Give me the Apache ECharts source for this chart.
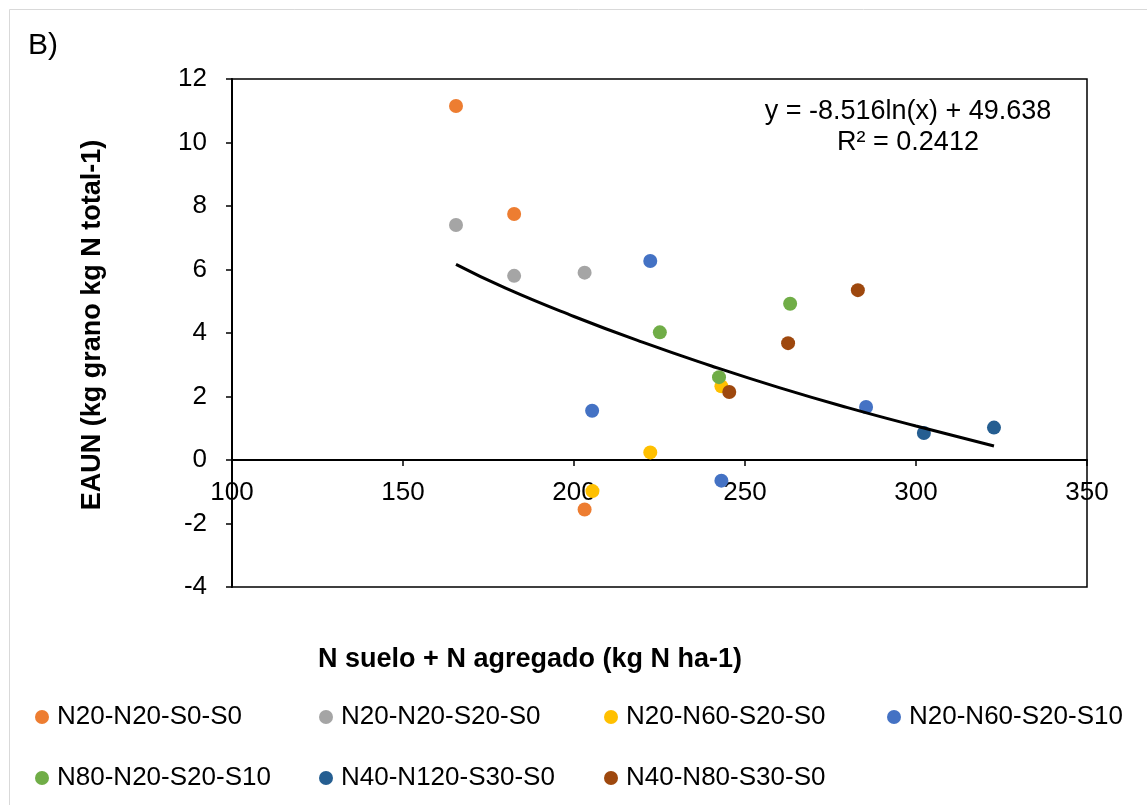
<!DOCTYPE html>
<html><head><meta charset="utf-8">
<script src="https://cdn.jsdelivr.net/npm/echarts@6/dist/echarts.min.js"></script>
<style>html,body{margin:0;padding:0;background:#fff}#c{width:1147px;height:805px}</style>
</head><body><div id="c"></div>
<script>
const seriesNames = ['N20-N20-S0-S0','N20-N20-S20-S0','N20-N60-S20-S0','N20-N60-S20-S10','N80-N20-S20-S10','N40-N120-S30-S0','N40-N80-S30-S0'];
const seriesColors = ['#ED7D31','#A5A5A5','#FFC000','#4472C4','#70AD47','#255E91','#9E480E'];
const s1 = [[165.5,11.15],[182.5,7.75],[203.1,-1.56]];
const s2 = [[165.5,7.4],[182.5,5.8],[203.1,5.9]];
const s3 = [[205.4,-0.98],[222.3,0.24],[243.1,2.32]];
const s4 = [[205.3,1.55],[222.3,6.27],[243.1,-0.65],[285.4,1.67]];
const s5 = [[225.1,4.02],[242.4,2.61],[263.2,4.92]];
const s6 = [[302.3,0.85],[322.8,1.02]];
const s7 = [[245.4,2.14],[262.6,3.68],[283.0,5.35]];
const trendX = [165.5,180,200,220,240,260,280,300,322.8];
const trendY = [6.16,5.41,4.52,3.71,2.97,2.28,1.65,1.07,0.44];
const xTicks = [100,150,200,250,300,350];
const yTicks = [-4,-2,0,2,4,6,8,10,12];
const eqText = 'y = -8.516ln(x) + 49.638';
const r2Text = 'R² = 0.2412';

const allData = [s1,s2,s3,s4,s5,s6,s7];
const font = '"Liberation Sans", Arial, sans-serif';
const FS = 26;
const TS = 27;
const chart = echarts.init(document.getElementById('c'));
const series = allData.map((d,i)=>({
  name: seriesNames[i], type:'scatter', data:d, symbolSize:14,
  itemStyle:{color:seriesColors[i], opacity:1}, z:3
}));
series.push({
  name:'trend', type:'line', data: trendX.map((x,i)=>[x,trendY[i]]),
  smooth:true, showSymbol:false, lineStyle:{color:'#000', width:3}, z:4, silent:true
});
const legendPos = [[35,704],[319,704],[604,704],[887,704],[35,765],[319,765],[604,765]];
const legends = seriesNames.map((n,i)=>({
  data:[{name:n, icon:'circle'}], left:legendPos[i][0], top:legendPos[i][1],
  itemWidth:14, itemHeight:14, itemGap:0, selectedMode:false, padding:0,
  textStyle:{fontFamily:font, fontSize:FS, color:'#000', padding:[0,0,0,3]}
}));
chart.setOption({
  animation:false,
  backgroundColor:'#fff',
  grid:{left:232, right:60, top:79, bottom:218, show:true, borderColor:'#000', borderWidth:1.5},
  legend: legends,
  xAxis:{type:'value', min:xTicks[0], max:xTicks[xTicks.length-1], interval:50,
    position:'bottom', offset:-127,
    axisLine:{onZero:false, lineStyle:{color:'#000', width:2}},
    axisTick:{show:true, length:6, lineStyle:{color:'#000', width:1.5}},
    axisLabel:{fontFamily:font, fontSize:FS, color:'#000', margin:20},
    splitLine:{show:false}},
  yAxis:{type:'value', min:yTicks[0], max:yTicks[yTicks.length-1], interval:2,
    axisLine:{onZero:false, lineStyle:{color:'#000', width:2}},
    axisTick:{show:true, length:6, lineStyle:{color:'#000', width:1.5}},
    axisLabel:{fontFamily:font, fontSize:FS, color:'#000', margin:25},
    splitLine:{show:false}},
  graphic:[
    {type:'rect', shape:{x:9.5,y:9.5,width:1160,height:820}, style:{fill:null, stroke:'#d9d9d9', lineWidth:1}, silent:true, z:-1},
    {type:'text', left:28, top:31, style:{text:'B)', font:'30px '+font, fill:'#000'}},
    {type:'text', x:908, y:112, style:{text:eqText, font:TS+'px '+font, fill:'#000', align:'center', verticalAlign:'middle'}},
    {type:'text', x:908, y:143, style:{text:r2Text, font:TS+'px '+font, fill:'#000', align:'center', verticalAlign:'middle'}},
    {type:'text', x:530, y:660, style:{text:'N suelo + N agregado (kg N ha-1)', font:'bold '+TS+'px '+font, fill:'#000', align:'center', verticalAlign:'middle'}},
    {type:'text', x:93, y:325, rotation:Math.PI/2, style:{text:'EAUN (kg grano kg N total-1)', font:'bold '+TS+'px '+font, fill:'#000', align:'center', verticalAlign:'middle'}}
  ],
  series: series
});
</script></body></html>
